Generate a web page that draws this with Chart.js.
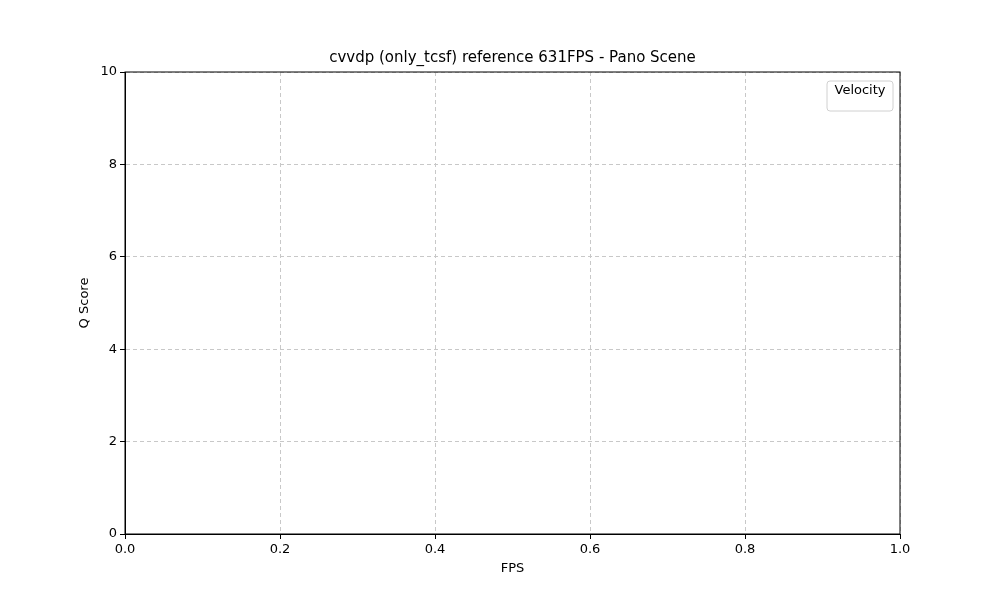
<!DOCTYPE html>
<html>
<head>
<meta charset="utf-8">
<script src="https://cdn.jsdelivr.net/npm/chart.js@4"></script>
<style>
  html, body { margin: 0; padding: 0; background: #fff; }
  #wrap { width: 1000px; height: 600px; }
</style>
</head>
<body>
<div id="wrap"><canvas id="chart" width="1000" height="600"></canvas></div>
<script>
const titleText = "cvvdp (only_tcsf) reference 631FPS - Pano Scene";
const xLabel = "FPS";
const yLabel = "Q Score";
const legendTitle = "Velocity";
const xRange = [0, 1, 0.2];
const yRange = [0, 10, 2];
const series = []; // no data series in the reference

Chart.defaults.font.family = "DejaVu Sans";
Chart.defaults.color = "#000";

// frame, title, axis titles and empty legend box
const framePlugin = {
  id: "frame",
  afterDraw(chart) {
    const { ctx, chartArea: a } = chart;
    const cx = (a.left + a.right) / 2, cy = (a.top + a.bottom) / 2;
    ctx.save();
    ctx.strokeStyle = "#000";
    ctx.lineWidth = 1;
    ctx.strokeRect(a.left, a.top, a.right - a.left, a.bottom - a.top);
    ctx.fillStyle = "#000";
    ctx.textAlign = "center";
    ctx.textBaseline = "middle";
    ctx.font = "15px DejaVu Sans";
    ctx.fillText(titleText, cx, a.top - 14);
    ctx.font = "13px DejaVu Sans";
    ctx.fillText(xLabel, cx, a.bottom + 35);
    ctx.save();
    ctx.translate(a.left - 40, cy);
    ctx.rotate(-Math.PI / 2);
    ctx.fillText(yLabel, 0, 0);
    ctx.restore();
    // legend box
    const bx = a.right - 73, by = a.top + 9, bw = 66, bh = 30;
    ctx.strokeStyle = "#d0d0d0";
    ctx.fillStyle = "rgba(255,255,255,0.8)";
    ctx.beginPath();
    ctx.roundRect(bx, by, bw, bh, 3);
    ctx.fill();
    ctx.stroke();
    ctx.fillStyle = "#000";
    ctx.font = "13px DejaVu Sans";
    ctx.fillText(legendTitle, bx + bw / 2, by + 10);
    ctx.restore();
  }
};

new Chart(document.getElementById("chart").getContext("2d"), {
  type: "scatter",
  data: { datasets: series },
  options: {
    responsive: false,
    animation: false,
    layout: { padding: { left: 0, right: 100, top: 72, bottom: 0 } },
    plugins: {
      legend: { display: false },
      tooltip: { enabled: false },
      title: { display: false }
    },
    scales: {
      x: {
        type: "linear", min: xRange[0], max: xRange[1],
        ticks: { stepSize: xRange[2], callback: v => v.toFixed(1), font: { size: 13 }, color: "#000" },
        grid: { color: "#c8c8c8", tickColor: "#000", tickLength: 5 },
        border: { dash: [4, 3], color: "#000" },
        afterFit: s => { s.height = 66; }
      },
      y: {
        min: yRange[0], max: yRange[1],
        ticks: { stepSize: yRange[2], font: { size: 13 }, color: "#000" },
        grid: { color: "#c8c8c8", tickColor: "#000", tickLength: 5 },
        border: { dash: [4, 3], color: "#000" },
        afterFit: s => { s.width = 125; }
      }
    }
  },
  plugins: [framePlugin]
});
</script>
</body>
</html>
